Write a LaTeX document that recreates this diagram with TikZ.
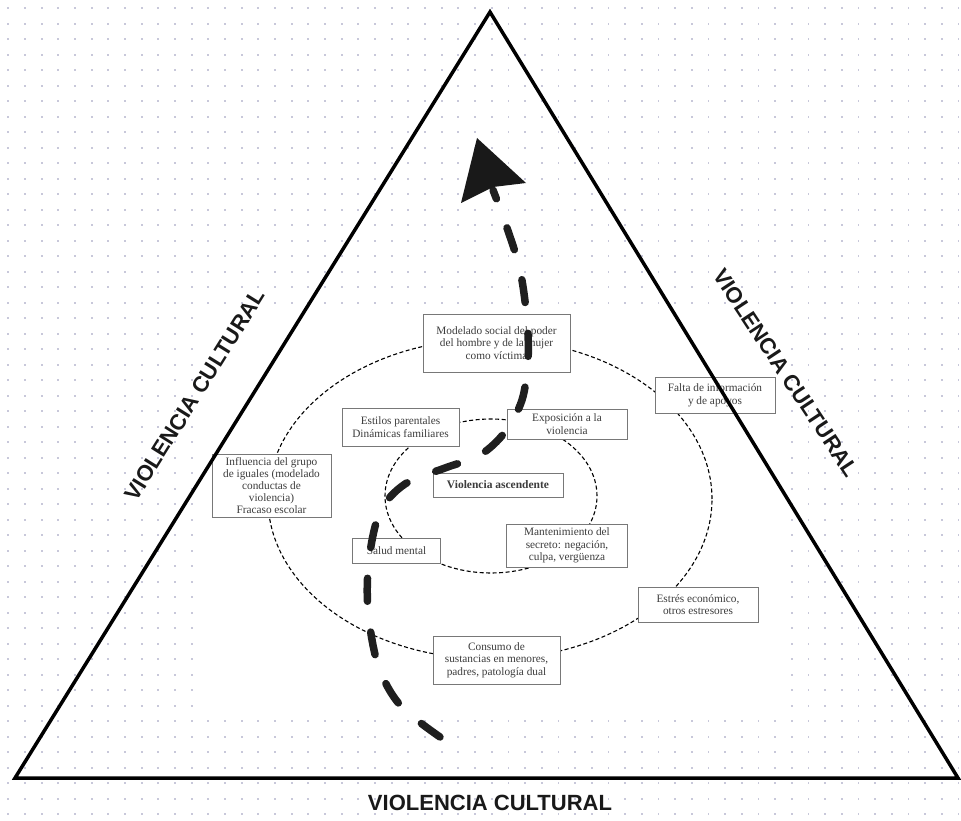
\documentclass[tikz,border=0pt]{standalone}
\usepackage{fontspec}
\setmainfont{Liberation Serif}
\newfontfamily\labelfont{Liberation Sans}
\definecolor{dotc}{RGB}{200,200,218}
\definecolor{boxline}{RGB}{120,120,120}
\definecolor{boxtext}{RGB}{60,60,60}
\begin{document}
\begin{tikzpicture}[x=1pt,y=-1pt,
  box/.style={draw=boxline, line width=0.9pt, fill=white, inner sep=1pt, align=center,
    font=\fontsize{11.3}{12.5}\selectfont, text=boxtext},
  ell/.style={draw=black, line width=1.1pt, dash pattern=on 4pt off 2.5pt},
  lab/.style={font=\labelfont\bfseries\fontsize{22}{24}\selectfont, text=black!90},
  flow/.style={line width=7.5pt, line cap=round, dash pattern=on 23pt off 31pt, draw=black!88}]
\useasboundingbox (0,0) rectangle (961,821);
\fill[white] (0,0) rectangle (961,821);
% dotted grid background
\foreach \i in {0,...,57}{
  \foreach \j in {0,...,52}{
    \fill[dotc] ({8.3+16.67*\i-0.9},{8.3+15.5*\j-0.9}) rectangle ++(1.8,1.8);
  }
}
% white area of the embedded diagram
\fill[white] (205,310) rectangle (785,714);
% ellipses
\draw[ell] (490,499) ellipse [x radius=222pt, y radius=160pt];
\draw[ell] (491,496) ellipse [x radius=106pt, y radius=77pt];
% boxes
\node[box, minimum width=147pt, minimum height=58pt] (modelado) at (496.5,343)
  {Modelado social del poder\\del hombre y de la mujer\\como víctima};
\node[box, minimum width=117pt, minimum height=38pt] (estilos) at (400.5,427)
  {Estilos parentales\\Dinámicas familiares};
\node[box, minimum width=120pt, minimum height=30pt] (exposicion) at (567,424)
  {Exposición a la\\violencia};
\node[box, minimum width=120pt, minimum height=36pt] (falta) at (715,395)
  {Falta de información\\y de apoyos};
\node[box, minimum width=119pt, minimum height=63pt, font=\fontsize{11.3}{11.8}\selectfont] (influencia) at (271.5,485.5)
  {Influencia del grupo\\de iguales (modelado\\conductas de\\violencia)\\Fracaso escolar};
\node[box, minimum width=130pt, minimum height=24pt, font=\bfseries\fontsize{11.5}{12.5}\selectfont] (ascendente) at (498,485)
  {Violencia ascendente};
\node[box, minimum width=88pt, minimum height=25pt] (salud) at (396.5,550.5)
  {Salud mental};
\node[box, minimum width=121pt, minimum height=43pt] (secreto) at (567,545.5)
  {Mantenimiento del\\secreto: negación,\\culpa, vergüenza};
\node[box, minimum width=120pt, minimum height=35pt] (estres) at (698,604.5)
  {Estrés económico,\\otros estresores};
\node[box, minimum width=127pt, minimum height=48pt] (consumo) at (496.5,660)
  {Consumo de\\sustancias en menores,\\padres, patología dual};
% triangle
\coordinate (apex) at (490,12);
\coordinate (bl) at (15,778);
\coordinate (br) at (958,778);
\draw[line width=3.5pt, line join=miter] (apex) -- (bl) -- (br) -- cycle;
% labels
\node[lab] (lbottom) at (490,803) {VIOLENCIA CULTURAL};
\node[lab, rotate=58] (lleft) at (195,395) {VIOLENCIA CULTURAL};
\node[lab, rotate=-56.5] (lright) at (786,373) {VIOLENCIA CULTURAL};
% ascending flow
\draw[flow] plot[smooth, tension=0.55] coordinates {(440,737) (400,705) (378,665) (368,610) (369,560) (380,512) (405,484) (445,468) (480,455) (505,432) (522,400) (528,360) (527,320) (520,270) (506,225) (493,190)};
\coordinate (tip) at (477,138);
\fill[black!90] (tip) -- (526,183) -- (493,187) -- (461,203) -- cycle;
\end{tikzpicture}
\end{document}
